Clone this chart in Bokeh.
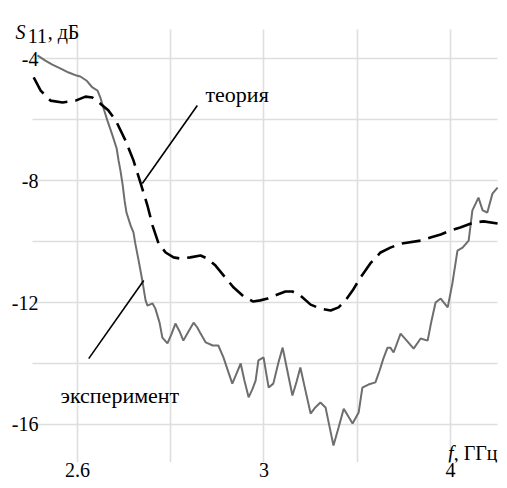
from bokeh.plotting import figure
from bokeh.models import FixedTicker, Label, BoxAnnotation
from bokeh.embed import file_html
from bokeh.resources import INLINE

# Theory (dashed) curve: frequency, GHz (axis as drawn) and S11, dB
theory_f = [2.506, 2.521, 2.542, 2.568, 2.596, 2.617, 2.632, 2.649, 2.666, 2.682,
            2.703, 2.720, 2.735, 2.750, 2.761, 2.774, 2.789, 2.806, 2.821, 2.842,
            2.864, 2.879, 2.896, 2.917, 2.935, 2.956, 2.977, 2.992, 3.008, 3.029,
            3.046, 3.061, 3.078, 3.100, 3.121, 3.143, 3.160, 3.175, 3.190, 3.207,
            3.228, 3.250, 3.271, 3.293, 3.336, 3.357, 3.379, 3.400, 3.421, 3.449,
            3.471, 3.501]
theory_s11 = [-4.62, -5.05, -5.38, -5.44, -5.38, -5.25, -5.28, -5.48, -5.70, -6.03,
              -6.69, -7.34, -8.07, -8.82, -9.48, -10.07, -10.36, -10.52, -10.56, -10.52,
              -10.46, -10.56, -10.79, -11.18, -11.51, -11.80, -11.97, -11.93, -11.87, -11.74,
              -11.64, -11.64, -11.77, -12.07, -12.20, -12.26, -12.16, -11.93, -11.61, -11.18,
              -10.72, -10.36, -10.20, -10.07, -9.97, -9.87, -9.77, -9.64, -9.54, -9.38,
              -9.34, -9.41]

# Experiment (grey) curve
exp_f = [2.514, 2.531, 2.546, 2.564, 2.581, 2.598, 2.606, 2.619, 2.632, 2.643,
         2.649, 2.656, 2.664, 2.675, 2.684, 2.688, 2.692, 2.697, 2.701, 2.705,
         2.714, 2.720, 2.724, 2.731, 2.739, 2.746, 2.750, 2.761, 2.767, 2.776,
         2.782, 2.793, 2.802, 2.810, 2.819, 2.827, 2.838, 2.849, 2.857, 2.864,
         2.875, 2.890, 2.902, 2.913, 2.924, 2.932, 2.941, 2.950, 2.958, 2.967,
         2.975, 2.982, 2.988, 2.999, 3.010, 3.020, 3.031, 3.040, 3.050, 3.061,
         3.070, 3.078, 3.089, 3.100, 3.110, 3.121, 3.132, 3.140, 3.149, 3.160,
         3.171, 3.181, 3.190, 3.203, 3.211, 3.224, 3.239, 3.248, 3.256, 3.265,
         3.271, 3.278, 3.293, 3.308, 3.321, 3.336, 3.351, 3.359, 3.368, 3.379,
         3.394, 3.404, 3.415, 3.426, 3.439, 3.447, 3.460, 3.469, 3.479, 3.490,
         3.501]
exp_s11 = [-3.90, -4.07, -4.20, -4.33, -4.46, -4.56, -4.59, -4.72, -4.95, -5.05,
           -5.28, -5.64, -6.03, -6.52, -6.95, -7.34, -7.67, -8.16, -8.66, -9.05,
           -9.48, -9.70, -10.07, -10.62, -11.28, -11.93, -12.10, -12.03, -12.20, -12.66,
           -13.15, -13.34, -13.02, -12.69, -12.95, -13.25, -12.95, -12.66, -12.82, -13.02,
           -13.31, -13.41, -13.41, -13.80, -14.30, -14.66, -14.33, -14.00, -14.56, -15.11,
           -14.85, -14.56, -13.90, -13.80, -14.79, -14.66, -13.97, -13.48, -14.23, -15.05,
           -14.59, -14.13, -14.89, -15.64, -15.44, -15.28, -15.44, -16.03, -16.69, -16.10,
           -15.48, -15.74, -15.97, -15.61, -14.79, -14.69, -14.62, -14.23, -13.84, -13.48,
           -13.48, -13.64, -13.02, -13.28, -13.51, -13.18, -13.25, -12.62, -12.00, -11.87,
           -12.16, -11.38, -10.30, -10.20, -9.97, -8.98, -8.56, -8.98, -9.05, -8.43,
           -8.23]

# Axis ticks
x_major = [2.6, 3.0, 3.4]
x_labels = ["2.6", "3", "4"]
x_minor = [2.8, 3.2]
y_major = [-16, -12, -8, -4]
y_labels = ["-16", "-12", "-8", "-4"]
y_minor = [-14, -10, -6]

# Extent of the drawn grid (data units)
grid_f = (2.5035, 3.5008)
grid_top = -3.05

# Annotation pointers (start, end)
theory_ptr_f = [2.857, 2.739]
theory_ptr_s = [-5.54, -8.10]
exp_ptr_f = [2.624, 2.742]
exp_ptr_s = [-13.84, -11.28]

FONT = "'Liberation Serif'"

p = figure(width=507, height=488, x_range=(2.4627, 3.5223), y_range=(-17.246, -2.557),
           output_backend="svg", toolbar_location=None,
           min_border_left=13, min_border_right=0, min_border_top=14, min_border_bottom=26)
p.outline_line_color = None
p.background_fill_color = "white"

p.xaxis.ticker = FixedTicker(ticks=x_major, minor_ticks=x_minor)
p.yaxis.ticker = FixedTicker(ticks=y_major, minor_ticks=y_minor)
p.xaxis.major_label_overrides = dict(zip(x_major, x_labels))
p.yaxis.major_label_overrides = dict(zip(y_major, y_labels))
for ax in (p.xaxis[0], p.yaxis[0]):
    ax.axis_line_color = None
    ax.major_tick_line_color = None
    ax.minor_tick_line_color = None
    ax.major_tick_out = 0
    ax.major_tick_in = 0
    ax.minor_tick_out = 0
    ax.minor_tick_in = 0
    ax.major_label_text_font = FONT
    ax.major_label_text_font_size = "20px"
    ax.major_label_text_color = "black"
p.xaxis.major_label_standoff = 0
p.yaxis.major_label_standoff = -25

for g in (p.xgrid[0], p.ygrid[0]):
    g.grid_line_color = "#dedede"
    g.grid_line_width = 1.6
    g.minor_grid_line_color = "#dedede"
    g.minor_grid_line_width = 1.6

# white masks so the grid covers only its drawn extent
for kw in (dict(right=grid_f[0]), dict(left=grid_f[1]), dict(bottom=grid_top)):
    p.add_layout(BoxAnnotation(fill_color="white", fill_alpha=1.0, line_color=None,
                               level="underlay", **kw))

p.line(exp_f, exp_s11, line_color="#6e6e6e", line_width=2)
p.line(theory_f, theory_s11, line_color="black", line_width=2.6, line_dash="19 8")

p.line(theory_ptr_f, theory_ptr_s, line_color="black", line_width=1.6)
p.line(exp_ptr_f, exp_ptr_s, line_color="black", line_width=1.6)

def lab(x, y, text, style="normal", align="left", size="20px"):
    p.add_layout(Label(x=x, y=y, text=text, text_font=FONT, text_font_size=size,
                       text_font_style=style, text_color="black",
                       text_align=align, text_baseline="alphabetic"))

lab(2.8745, -5.18, "теория", size="22px")
lab(2.5635, -15.05, "эксперимент", size="22px")
lab(2.467, -3.115, "S", style="italic")
lab(2.493, -3.246, "11")
lab(2.536, -3.115, ", дБ")
lab(3.4065, -16.95, "f", style="italic", align="right")
lab(3.5008, -16.95, ", ГГц", align="right")

open("out.html", "w").write(file_html(p, INLINE))
